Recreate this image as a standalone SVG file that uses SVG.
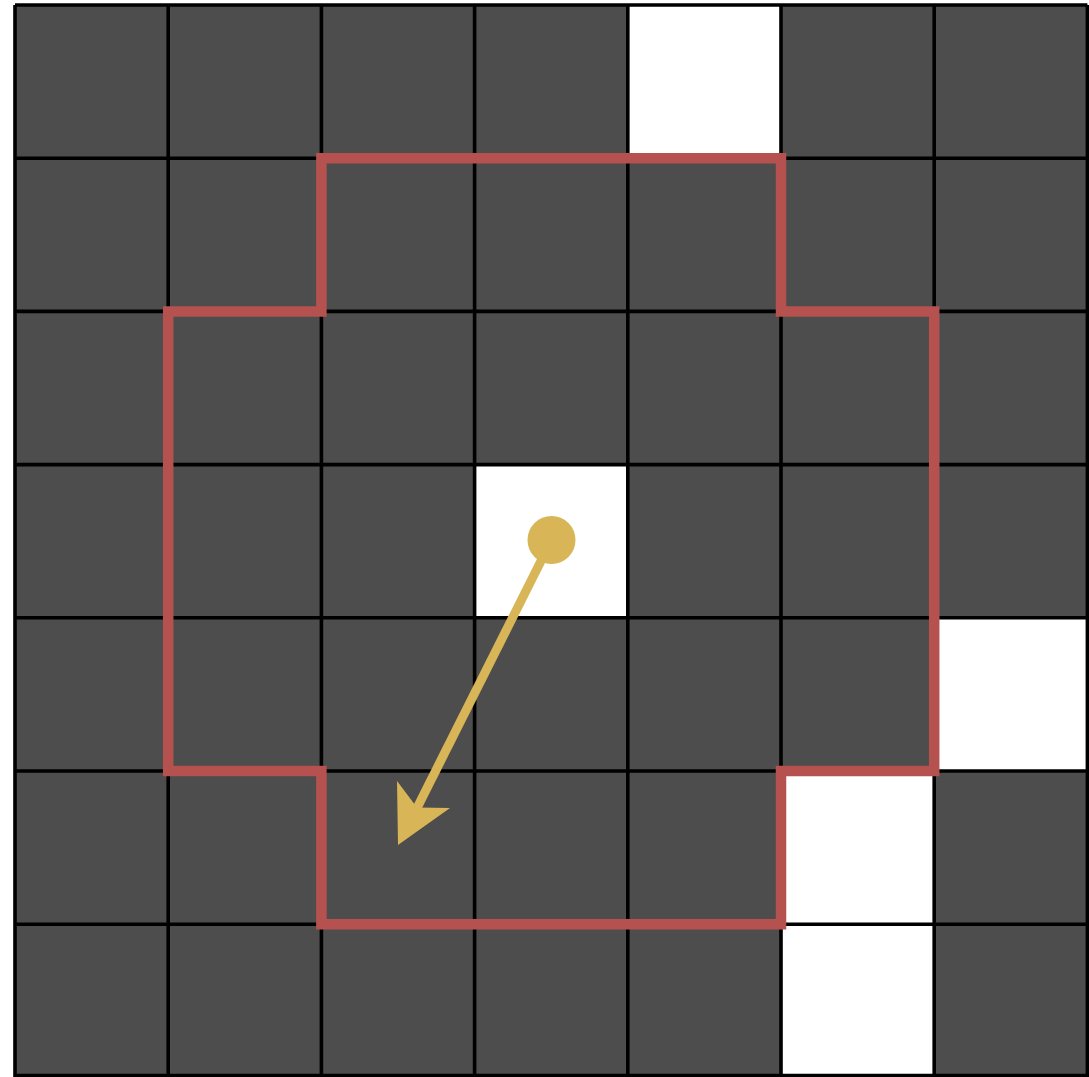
<svg xmlns="http://www.w3.org/2000/svg" width="1089" height="1077" viewBox="0 0 1089 1077">
<style>
.d{fill:#4d4d4d}
.w{fill:#ffffff}
.g{stroke:#000;stroke-width:3.6;fill:none}
.r{stroke:#b5524f;stroke-width:10.5;fill:none;stroke-linejoin:miter}
.y{stroke:#d8b556;stroke-width:9;fill:none}
</style>
<rect width="1089" height="1077" fill="#ffffff"/>
<g id="cells" transform="translate(15,5) scale(153.2)">
<rect class="d" x="0" y="0" width="7" height="7"/>
<rect class="w" x="4" y="0" width="1" height="1"/>
<rect class="w" x="3" y="3" width="1" height="1"/>
<rect class="w" x="6" y="4" width="1" height="1"/>
<rect class="w" x="5" y="5" width="1" height="2"/>
</g>
<g id="grid">
<path class="g" d="M15,5V1077.4M168.2,5V1077.4M321.4,5V1077.4M474.6,5V1077.4M627.8,5V1077.4M781,5V1077.4M934.2,5V1077.4M1087.4,5V1077.4M15,5H1087.4M15,158.2H1087.4M15,311.4H1087.4M15,464.6H1087.4M15,617.8H1087.4M15,771H1087.4M15,924.2H1087.4M15,1075.6H1087.4"/>
</g>
<g id="region">
<path class="r" d="M321.4,158.2H781V311.4H934.2V771H781V924.2H321.4V771H168.2V311.4H321.4Z"/>
</g>
<g id="connectors">
<line class="y" x1="551.5" y1="540" x2="414" y2="814"/>
<circle cx="551.5" cy="540" r="24" fill="#d8b556"/>
<polygon points="398,845 397,781 417,807.5 450,808" fill="#d8b556"/>
</g>
</svg>
